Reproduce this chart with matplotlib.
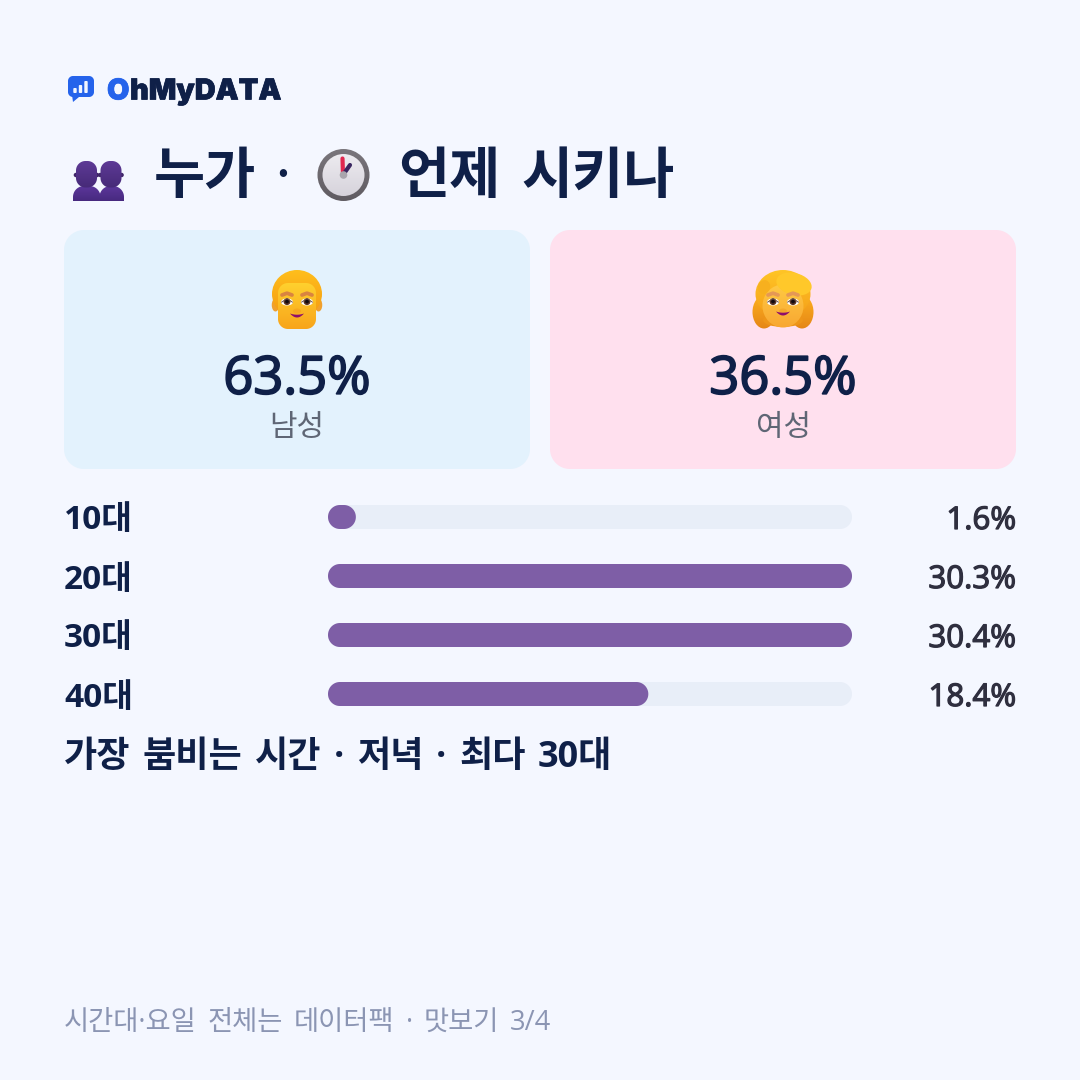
import matplotlib
matplotlib.use("Agg")
import numpy as np
import matplotlib.pyplot as plt
from matplotlib.colors import LinearSegmentedColormap
from matplotlib.patches import Circle, Ellipse, Polygon
from matplotlib import patheffects as pe

# Data
genders = ["남성", "여성"]
gender_shares = [63.5, 36.5]
age_groups = ["10대", "20대", "30대", "40대"]
age_shares = [1.6, 30.3, 30.4, 18.4]
bar_full_scale = 30.1

BG = "#F4F7FF"
NAVY = "#0F2048"
KR = ["Noto Sans CJK KR", "DejaVu Sans"]
MIX = ["Open Sans", "Noto Sans CJK KR", "DejaVu Sans"]

fig = plt.figure(figsize=(10.8, 10.8), dpi=100, facecolor=BG)
ov = fig.add_axes([0, 0, 1, 1])
ov.set_xlim(0, 1080)
ov.set_ylim(1080, 0)
ov.axis("off")


def corner_outline(x0, y0, x1, y1, rx, ry, flat_bottom=False):
    """Outline of a box with true elliptical corners."""
    t = np.linspace(0, np.pi / 2, 24)
    c, s = np.cos(t), np.sin(t)
    tr = np.column_stack([x1 - rx + rx * s, y0 + ry - ry * c])
    tl = np.column_stack([x0 + rx - rx * c, y0 + ry - ry * s])
    if flat_bottom:
        bottom = [[x1, y1], [x0, y1]]
    else:
        br = np.column_stack([x1 - rx + rx * c, y1 - ry + ry * s])
        bl = np.column_stack([x0 + rx - rx * s, y1 - ry + ry * c])
        bottom = np.vstack([br, bl])
    return np.vstack([tl, tr, bottom])


def rounded(x0, y0, x1, y1, r, flat_bottom=False):
    return Polygon(corner_outline(x0, y0, x1, y1, r, r, flat_bottom), closed=True, lw=0)


def gradient(patch, c1, c2, box, horizontal=False, z=3):
    """Fill a patch with a two-colour linear gradient."""
    ov.add_patch(patch)
    patch.set_facecolor("none")
    patch.set_edgecolor("none")
    patch.set_zorder(z)
    cmap = LinearSegmentedColormap.from_list("g", [c1, c2])
    ramp = np.linspace(0, 1, 128)
    ramp = ramp[None, :] if horizontal else ramp[:, None]
    im = ov.imshow(ramp, cmap=cmap, extent=[box[0], box[2], box[3], box[1]],
                   origin="upper", aspect="auto", zorder=z, interpolation="bilinear")
    im.set_clip_path(patch)
    ov.set_xlim(0, 1080)
    ov.set_ylim(1080, 0)


def add(p, z=4):
    p.set_zorder(z)
    ov.add_patch(p)
    return p


def stroke(xs, ys, color, lw, z=6):
    ov.plot(xs, ys, color=color, lw=lw, solid_capstyle="round", zorder=z)


def words(x, y, text, gap, **kw):
    """Lay out words one by one with a fixed pixel gap between them."""
    renderer = fig.canvas.get_renderer()
    for word in text.split(" "):
        t = ov.text(x, y, word, ha="left", va="center", **kw)
        x += t.get_window_extent(renderer).width + gap
    return x


def semibold(color, width):
    """Thicken regular-weight glyphs with a thin outline of their own colour."""
    return [pe.withStroke(linewidth=width, foreground=color)]


def face_details(cx, ey, gap, brow_col, mouth_y):
    for sx in (-1, 1):
        ex = cx + sx * gap
        add(Ellipse((ex, ey), 12, 7, fc="#FFFFFF", lw=0), 6)
        add(Circle((ex, ey - 0.3), 3.4, fc="#5A3424", lw=0), 7)
        add(Circle((ex, ey - 0.5), 1.9, fc="#120A10", lw=0), 8)
        stroke([ex - 5.5, ex, ex + 5.5], [ey + 0.2, ey - 3.4, ey + 0.2], "#6B5148", 0.7, 8)
        stroke([ex - 5, ex, ex + 5], [ey - 7, ey - 8.8, ey - 7], brow_col, 2.7, 6)
    add(Ellipse((cx, ey + 9), 8, 5, fc="#F09A1E", alpha=0.45, lw=0), 6)
    t = np.linspace(-1, 1, 24)
    xs = cx + 7 * t
    lower = mouth_y + 4 * (1 - t ** 2)
    upper = mouth_y + 1.2 * (1 - t ** 2)
    add(Polygon(np.column_stack([np.r_[xs, xs[::-1]], np.r_[lower, upper[::-1]]]),
                fc="#8E0E6B", lw=0), 6)


def draw_man():
    for x in (275.5, 318.5):
        add(Ellipse((x, 305), 7.5, 13, fc="#F0A02E", lw=0), 3)
    gradient(Ellipse((297, 294), 50, 48), "#FFBE1C", "#F49A12", (272, 270, 322, 318), z=3.5)
    gradient(rounded(278, 283, 316, 329, 10), "#FFD12E", "#F8A41B", (278, 283, 316, 329), z=5)
    face_details(297, 302, 10, "#D98440", 313.5)


def draw_woman():
    for x, w in ((764, 23), (802, 23)):
        gradient(Ellipse((x, 312), w, 33), "#FDB01F", "#E58616", (x - 12, 295, x + 12, 329), z=3)
    gradient(Ellipse((783, 294), 55, 48), "#FFC526", "#F59F19", (755, 270, 811, 318), z=3.2)
    add(Ellipse((783, 320), 40, 14, fc="#EE9518", lw=0), 3.1)
    gradient(Ellipse((783, 306), 41, 43), "#FFC944", "#F8A731", (762, 285, 804, 328), z=5)
    add(Ellipse((794, 284), 36, 22, angle=14, fc="#FFC82A", lw=0), 5.5)
    add(Ellipse((764, 287), 12, 14, angle=20, fc="#F7B01E", lw=0), 5.4)
    face_details(783, 302, 10, "#E59855", 311.5)


def draw_people():
    bodies = ((73, 100.5, 86.5), (99.5, 124, 111))
    for x0, x1, head_x in bodies:
        gradient(rounded(x0, 186, x1, 201, 11, flat_bottom=True), "#5C379B", "#47297F",
                 (x0, 186, x1, 201), z=4)
        gradient(rounded(head_x - 10.5, 161, head_x + 10.5, 187.5, 9.5), "#5E3A96", "#462A78",
                 (head_x - 11, 161, head_x + 11, 188), z=5)
        for sx in (-1, 1):
            add(Circle((head_x + sx * 10.6, 175), 2.2, fc="#3F2568", lw=0), 4.5)


def draw_clock():
    c = (343.5, 175)
    gradient(Circle(c, 26), "#7A767C", "#5F5B61", (317, 149, 370, 201), z=4)
    gradient(Circle(c, 21), "#EDEBF0", "#D6D3DB", (322, 154, 365, 196), z=5)
    ov.plot([343, 342.5], [175, 158.5], color="#E0284F", lw=3.0, solid_capstyle="round", zorder=6)
    ov.plot([343, 350], [175, 165], color="#3A2660", lw=3.0, solid_capstyle="round", zorder=6)
    add(Circle((343.5, 175), 3.8, fc="#A9A6AD", lw=0), 7)


def draw_logo():
    add(rounded(68, 76, 94, 97, 5), 4).set_facecolor("#2563EB")
    add(Polygon([(72, 95), (79, 97), (73, 102)], fc="#2563EB", lw=0), 4)
    for x, top in ((75, 88), (80.5, 85), (86, 81)):
        add(rounded(x - 1.7, top, x + 1.7, 93, 1), 5).set_facecolor("#F2F6FF")


# Header
draw_logo()
ov.text(107, 92, "O", family="Inter", weight="black", fontsize=20.8, color="#2563EB",
        ha="left", va="center", path_effects=[pe.withStroke(linewidth=0.5, foreground="#2563EB")])
ov.text(130, 92, "hMyDATA", family="Inter", weight="black", fontsize=20.8, color=NAVY,
        ha="left", va="center", path_effects=[pe.withStroke(linewidth=0.5, foreground=NAVY)])

draw_people()
draw_clock()
title_kw = dict(family=KR, weight="bold", fontsize=40, color=NAVY)
words(154, 177, "누가", 0, **title_kw)
ov.text(283, 177, "·", family=KR, fontsize=40, color=NAVY, ha="center", va="center")
words(398, 177, "언제 시키나", 21, **title_kw)

# Gender cards
card_boxes = [(64, 530, "#E3F2FD"), (550, 1016, "#FFE0EE")]
for (x0, x1, col), name, share in zip(card_boxes, genders, gender_shares):
    add(rounded(x0, 230, x1, 469, 20), 1).set_facecolor(col)
    mid = (x0 + x1) / 2
    ov.text(mid, 380, f"{share}%", family="Open Sans", fontsize=37.8, color=NAVY, ha="center", va="center",
            zorder=5, path_effects=semibold(NAVY, 1.3))
    ov.text(mid, 428, name, family=KR, fontsize=21.5, color="#5F6675", ha="center", va="center", zorder=5)
draw_man()
draw_woman()

# Age bars
bar_ax = fig.add_axes([328 / 1080, 1 - 706 / 1080, 524 / 1080, 201 / 1080], facecolor="none")
row_h = 24 / 59
bar_ax.set_xlim(0, bar_full_scale)
bar_ax.set_ylim(3 + row_h / 2, -row_h / 2)
bar_ax.axis("off")
corner_x = 12 * bar_full_scale / 524


def pill(ax, width, y, color, z):
    rx = min(corner_x, width / 2)
    outline = corner_outline(0, y - row_h / 2, width, y + row_h / 2, rx, row_h / 2)
    ax.fill(outline[:, 0], outline[:, 1], color=color, lw=0, zorder=z, clip_on=False)


for i, (group, share) in enumerate(zip(age_groups, age_shares)):
    pill(bar_ax, bar_full_scale, i, "#E8EEF8", 1)
    pill(bar_ax, min(share, bar_full_scale), i, "#7E5EA6", 2)
    y = 521 + i * 59
    ov.text(64, y, group, family=MIX, weight="bold", fontsize=24, color=NAVY, ha="left", va="center")
    ov.text(1016, y, f"{share}%", family="Open Sans", fontsize=22.5, color="#2F2F3F", ha="right",
            va="center", path_effects=semibold("#2F2F3F", 0.9))

# Notes
words(64, 758, "가장 붐비는 시간 · 저녁 · 최다 30대", 12.5, family=MIX, weight="bold", fontsize=26, color=NAVY)
words(64, 1023, "시간대·요일 전체는 데이터팩 · 맛보기 3/4", 11, family=MIX, fontsize=19.7, color="#8B95B3")

fig.savefig("out.png", dpi=100, facecolor=BG)
